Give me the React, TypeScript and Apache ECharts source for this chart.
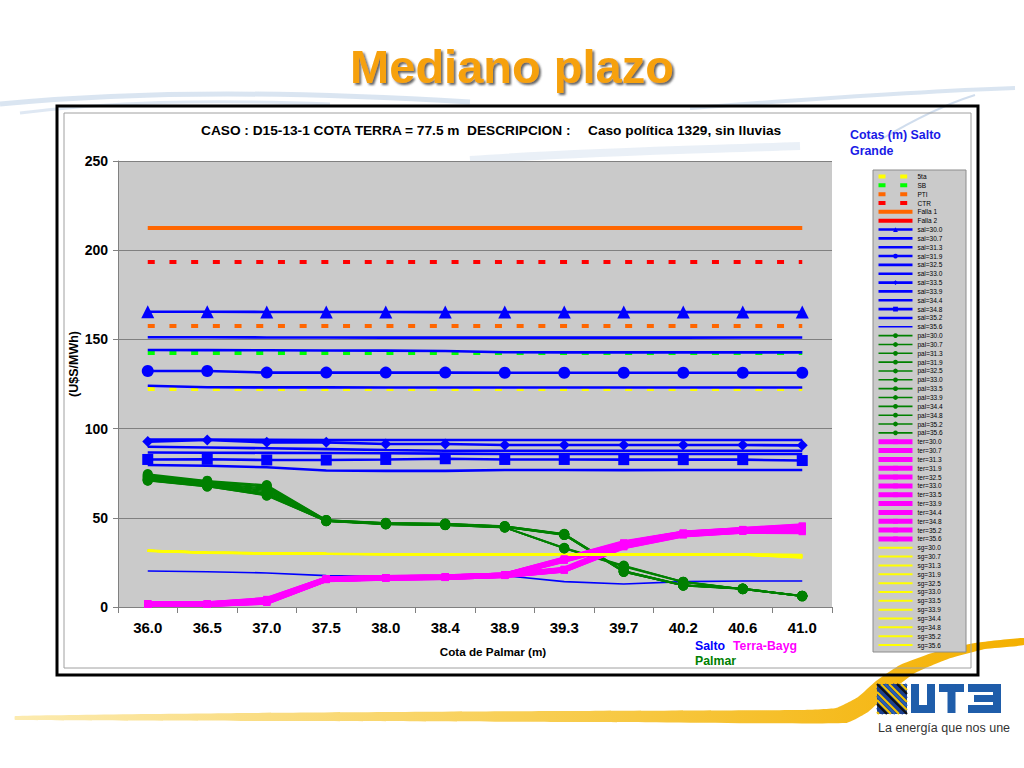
import React, { useEffect, useRef } from "react";
import * as echarts from "echarts";

const FONT = '"Liberation Sans", Arial, Helvetica, sans-serif';

const categories = ["36.0", "36.5", "37.0", "37.5", "38.0", "38.4", "38.9", "39.3", "39.7", "40.2", "40.6", "41.0"];
const cotas = ["30.0", "30.7", "31.3", "31.9", "32.5", "33.0", "33.5", "33.9", "34.4", "34.8", "35.2", "35.6"];

// Reference levels (dashed) and failure costs
const quinta = [122.2, 122.2, 122.2, 122.2, 122.2, 122.2, 122.2, 122.2, 122.2, 122.2, 122.2, 122.2];
const sb = [142.4, 142.4, 142.4, 142.4, 142.4, 142.4, 142.4, 142.4, 142.4, 142.4, 142.4, 142.4];
const pti = [157.5, 157.5, 157.5, 157.5, 157.5, 157.5, 157.5, 157.5, 157.5, 157.5, 157.5, 157.5];
const ctr = [193.4, 193.4, 193.4, 193.4, 193.4, 193.4, 193.4, 193.4, 193.4, 193.4, 193.4, 193.4];
const falla1 = [212.5, 212.5, 212.5, 212.5, 212.5, 212.5, 212.5, 212.5, 212.5, 212.5, 212.5, 212.5];
const falla2 = [300, 300, 300, 300, 300, 300, 300, 300, 300, 300, 300, 300];

// Salto Grande
const sal300 = [165.5, 165.5, 165.4, 165.4, 165.4, 165.3, 165.3, 165.3, 165.3, 165.3, 165.3, 165.3];
const sal307 = [151.2, 151.2, 151.1, 151.1, 151.0, 151.0, 151.0, 151.0, 151.0, 151.0, 151.1, 151.1];
const sal313 = [144.1, 144.0, 143.9, 143.8, 143.7, 143.5, 142.8, 142.7, 142.7, 142.7, 142.7, 142.7];
const sal319 = [132.3, 132.3, 131.4, 131.4, 131.4, 131.4, 131.3, 131.3, 131.3, 131.3, 131.3, 131.3];
const sal325 = [124.0, 123.2, 123.1, 123.1, 123.0, 123.0, 123.0, 123.0, 123.0, 123.0, 123.0, 123.0];
const sal330 = [93.9, 93.8, 93.7, 93.6, 93.6, 93.6, 93.6, 93.6, 93.6, 93.6, 93.6, 93.6];
const sal335 = [92.7, 93.6, 92.3, 92.3, 91.4, 91.4, 90.8, 90.8, 90.8, 90.8, 90.8, 90.6];
const sal339 = [89.8, 89.4, 89.0, 88.5, 88.0, 87.6, 87.6, 87.6, 87.6, 87.6, 87.6, 87.6];
const sal344 = [86.6, 86.5, 86.4, 86.3, 86.2, 86.0, 85.8, 85.8, 85.8, 85.8, 85.8, 85.8];
const sal348 = [82.7, 82.8, 82.4, 82.4, 82.7, 83.1, 82.7, 82.7, 82.6, 82.6, 82.6, 82.1];
const sal352 = [79.6, 79.2, 78.3, 76.5, 76.3, 76.3, 76.8, 76.8, 76.7, 76.8, 76.8, 76.8];
const sal356 = [20.2, 19.8, 19.1, 17.6, 17.0, 17.0, 17.6, 14.2, 12.9, 14.2, 14.6, 14.6];

// Palmar
const pal300 = [74.5, 70.8, 68.4, 48.8, 47.2, 46.8, 45.4, 41.0, 20.3, 12.3, 10.3, 6.3];
const pal307 = [74.0, 70.4, 67.8, 48.7, 47.1, 46.7, 45.3, 40.9, 20.2, 12.3, 10.3, 6.3];
const pal313 = [73.6, 70.0, 67.3, 48.6, 47.0, 46.6, 45.2, 40.8, 20.1, 12.2, 10.3, 6.3];
const pal319 = [73.1, 69.6, 66.6, 48.5, 46.9, 46.5, 45.1, 40.7, 20.0, 12.2, 10.2, 6.2];
const pal325 = [72.7, 69.2, 66.0, 48.5, 46.8, 46.4, 45.0, 40.6, 19.9, 12.1, 10.2, 6.2];
const pal330 = [72.3, 68.9, 65.3, 48.4, 46.7, 46.3, 44.9, 40.5, 19.8, 12.1, 10.2, 6.2];
const pal335 = [71.9, 68.6, 64.6, 48.3, 46.6, 46.2, 44.8, 40.4, 19.7, 12.0, 10.1, 6.1];
const pal339 = [71.5, 68.3, 63.9, 48.3, 46.5, 46.1, 44.8, 40.3, 19.6, 12.0, 10.1, 6.1];
const pal344 = [71.3, 68.0, 63.3, 48.2, 46.5, 46.0, 44.7, 33.2, 23.2, 14.2, 10.1, 6.1];
const pal348 = [71.1, 67.8, 62.9, 48.2, 46.4, 45.9, 44.6, 33.0, 23.0, 14.1, 10.0, 6.0];
const pal352 = [70.9, 67.6, 62.6, 48.1, 46.4, 45.9, 44.6, 32.9, 22.8, 14.0, 10.0, 6.0];
const pal356 = [70.8, 67.5, 62.4, 48.1, 46.3, 45.8, 44.5, 32.8, 22.6, 13.9, 10.0, 6.0];

// Terra-Baygorria
const ter300 = [1.8, 1.8, 4.3, 15.8, 16.5, 16.9, 18.0, 27.0, 36.0, 41.5, 43.5, 45.5];
const ter307 = [1.8, 1.8, 4.1, 15.8, 16.5, 16.9, 18.0, 26.8, 35.8, 41.4, 43.4, 45.2];
const ter313 = [1.7, 1.7, 3.9, 15.7, 16.4, 16.8, 17.9, 26.6, 35.6, 41.3, 43.3, 44.9];
const ter319 = [1.7, 1.7, 3.7, 15.7, 16.4, 16.8, 17.9, 26.4, 35.4, 41.2, 43.2, 44.6];
const ter325 = [1.6, 1.6, 3.5, 15.6, 16.3, 16.8, 17.9, 26.3, 35.2, 41.1, 43.1, 44.3];
const ter330 = [1.6, 1.6, 3.3, 15.6, 16.3, 16.7, 17.8, 26.2, 35.0, 41.0, 43.0, 44.0];
const ter335 = [1.5, 1.5, 3.1, 15.5, 16.3, 16.7, 17.8, 21.2, 34.8, 40.9, 42.9, 43.7];
const ter339 = [1.5, 1.5, 3.0, 15.5, 16.2, 16.7, 17.8, 21.0, 34.5, 40.8, 42.8, 43.4];
const ter344 = [1.5, 1.5, 2.9, 15.5, 16.2, 16.6, 17.7, 20.9, 34.3, 40.7, 42.7, 43.1];
const ter348 = [1.4, 1.4, 2.8, 15.4, 16.2, 16.6, 17.7, 20.8, 34.1, 40.6, 42.6, 42.8];
const ter352 = [1.4, 1.4, 2.7, 15.4, 16.1, 16.6, 17.7, 20.7, 33.9, 40.5, 42.5, 42.5];
const ter356 = [1.4, 1.4, 2.6, 15.3, 16.1, 16.5, 17.6, 20.6, 33.7, 40.4, 42.4, 42.2];

// sg
const sg300 = [31.7, 30.6, 30.2, 29.9, 29.7, 29.6, 29.5, 29.5, 29.5, 29.5, 29.5, 29.3];
const sg307 = [31.7, 30.6, 30.2, 29.9, 29.7, 29.6, 29.5, 29.5, 29.5, 29.5, 29.5, 29.1];
const sg313 = [31.6, 30.5, 30.2, 29.9, 29.7, 29.5, 29.5, 29.5, 29.5, 29.5, 29.5, 29.0];
const sg319 = [31.6, 30.5, 30.1, 29.9, 29.7, 29.5, 29.5, 29.5, 29.5, 29.5, 29.5, 28.8];
const sg325 = [31.6, 30.5, 30.1, 29.8, 29.6, 29.5, 29.5, 29.5, 29.5, 29.5, 29.5, 28.7];
const sg330 = [31.6, 30.5, 30.1, 29.8, 29.6, 29.5, 29.5, 29.5, 29.5, 29.5, 29.4, 28.5];
const sg335 = [31.5, 30.5, 30.1, 29.8, 29.6, 29.5, 29.5, 29.5, 29.5, 29.5, 29.4, 28.4];
const sg339 = [31.5, 30.4, 30.1, 29.8, 29.6, 29.5, 29.4, 29.4, 29.4, 29.4, 29.4, 28.2];
const sg344 = [31.5, 30.4, 30.0, 29.8, 29.6, 29.4, 29.4, 29.4, 29.4, 29.4, 29.4, 28.1];
const sg348 = [31.5, 30.4, 30.0, 29.7, 29.5, 29.4, 29.4, 29.4, 29.4, 29.4, 29.3, 27.9];
const sg352 = [31.4, 30.4, 30.0, 29.7, 29.5, 29.4, 29.4, 29.4, 29.4, 29.4, 29.3, 27.8];
const sg356 = [31.4, 30.3, 30.0, 29.7, 29.5, 29.4, 29.4, 29.4, 29.4, 29.4, 29.3, 27.6];

const salData = [sal300, sal307, sal313, sal319, sal325, sal330, sal335, sal339, sal344, sal348, sal352, sal356];
const palData = [pal300, pal307, pal313, pal319, pal325, pal330, pal335, pal339, pal344, pal348, pal352, pal356];
const terData = [ter300, ter307, ter313, ter319, ter325, ter330, ter335, ter339, ter344, ter348, ter352, ter356];
const sgData = [sg300, sg307, sg313, sg319, sg325, sg330, sg335, sg339, sg344, sg348, sg352, sg356];

const salSymbols = ["triangle", "none", "none", "circle", "none", "none", "diamond", "none", "none", "rect", "none", "none"];
const salSymbolSizes = [13, 0, 0, 12, 0, 0, 11, 0, 0, 11, 0, 0];

function buildOption() {
  const series: any[] = [];
  const legendData: any[] = [];
  const hidden = { opacity: 0 };

  const dashed = (name: string, data: number[], color: string) => {
    series.push({
      name, type: "line", data, symbol: "none",
      lineStyle: { color, width: 4, type: [7, 14.7], cap: "butt" },
      itemStyle: { color },
    });
    legendData.push({ name, itemStyle: hidden });
  };
  const solid = (name: string, data: number[], color: string, width: number) => {
    series.push({ name, type: "line", data, symbol: "none", lineStyle: { color, width }, itemStyle: { color } });
    legendData.push({ name, itemStyle: hidden });
  };
  dashed("5ta", quinta, "#FFFF00");
  dashed("SB", sb, "#00FF00");
  dashed("PTI", pti, "#FF6600");
  dashed("CTR", ctr, "#FF0000");
  solid("Falla 1", falla1, "#FF6600", 4);
  solid("Falla 2", falla2, "#FF0000", 4);

  salData.forEach((d, i) => {
    const name = "sal=" + cotas[i];
    const sym = salSymbols[i];
    series.push({
      name, type: "line", data: d,
      symbol: sym, symbolSize: salSymbolSizes[i], showSymbol: sym !== "none",
      lineStyle: { color: "#0000FF", width: i === 11 ? 1.6 : 2.6 },
      itemStyle: { color: "#0000FF" },
    });
    legendData.push(sym === "none" ? { name, itemStyle: hidden } : { name });
  });
  palData.forEach((d, i) => {
    const name = "pal=" + cotas[i];
    series.push({
      name, type: "line", data: d, symbol: "circle", symbolSize: 10,
      lineStyle: { color: "#008000", width: 1.6 }, itemStyle: { color: "#008000" },
    });
    legendData.push({ name });
  });
  terData.forEach((d, i) => {
    const name = "ter=" + cotas[i];
    series.push({
      name, type: "line", data: d, symbol: "rect", symbolSize: 7,
      lineStyle: { color: "#FF00FF", width: 5 }, itemStyle: { color: "#FF00FF" },
    });
    legendData.push({ name });
  });
  sgData.forEach((d, i) => {
    const name = "sg=" + cotas[i];
    series.push({
      name, type: "line", data: d, symbol: "none",
      lineStyle: { color: "#FFFF00", width: 2 }, itemStyle: { color: "#FFFF00" },
    });
    legendData.push({ name, itemStyle: hidden });
  });

  // Logo stripes (decoration)
  const stripes: any[] = [];
  const sx = 877, sy = 684, sw = 30;
  const stripeColors = ["#F3C300", "#1B3F8F", "#111111", "#F3C300", "#2A62B8"];
  let ci = 0;
  for (let k = -sw + 2; k < sw; k += 4) {
    let x1, y1, x2, y2;
    if (k >= 0) { x1 = sx + k; y1 = sy; x2 = sx + sw; y2 = sy + sw - k; }
    else { x1 = sx; y1 = sy - k; x2 = sx + sw + k; y2 = sy + sw; }
    stripes.push({
      type: "line", z: 3, shape: { x1, y1, x2, y2 },
      style: { stroke: stripeColors[ci % stripeColors.length], lineWidth: 2.2 },
    });
    ci++;
  }

  const blue = "#1F5DAA";
  const graphic: any[] = [
    // white chart area
    { type: "rect", z: -10, shape: { x: 57, y: 106, width: 921, height: 569 }, style: { fill: "#FFFFFF" } },
    // top swooshes
    { type: "bezierCurve", z: -9, shape: { x1: 0, y1: 104, cpx1: 150, cpy1: 90, cpx2: 300, cpy2: 92, x2: 470, y2: 102 }, style: { stroke: "rgba(150,180,215,0.35)", lineWidth: 5, fill: "none" } },
    { type: "bezierCurve", z: -9, shape: { x1: 20, y1: 113, cpx1: 110, cpy1: 102, cpx2: 200, cpy2: 99, x2: 330, y2: 104 }, style: { stroke: "rgba(150,180,215,0.3)", lineWidth: 3, fill: "none" } },
    { type: "bezierCurve", z: -9, shape: { x1: 690, y1: 108, cpx1: 800, cpy1: 100, cpx2: 900, cpy2: 92, x2: 1015, y2: 88 }, style: { stroke: "rgba(150,180,215,0.35)", lineWidth: 4, fill: "none" } },
    { type: "bezierCurve", z: -9, shape: { x1: 470, y1: 160, cpx1: 580, cpy1: 152, cpx2: 690, cpy2: 150, x2: 800, y2: 146 }, style: { stroke: "rgba(170,195,225,0.25)", lineWidth: 8, fill: "none" } },
    { type: "bezierCurve", z: -9, shape: { x1: 880, y1: 140, cpx1: 910, cpy1: 122, cpx2: 940, cpy2: 106, x2: 975, y2: 95 }, style: { stroke: "rgba(150,180,215,0.45)", lineWidth: 2, fill: "none" } },
    // bottom yellow swoosh
    {
      type: "polygon", z: -9,
      shape: {
        smooth: 0.15,
        points: [[15, 716], [250, 713], [560, 711], [800, 710], [836, 708], [858, 697], [876, 681], [900, 665], [935, 652], [975, 643], [1024, 638],
          [1024, 645], [985, 649], [948, 659], [915, 673], [890, 692], [868, 712], [846, 723], [600, 722], [300, 721], [15, 720]],
      },
      style: {
        fill: new echarts.graphic.LinearGradient(0, 0, 1, 0, [
          { offset: 0, color: "#FCEBB0" }, { offset: 0.5, color: "#F8CF55" }, { offset: 1, color: "#F4B000" },
        ]),
      },
    },
    // frame
    { type: "rect", z: -8, shape: { x: 57, y: 106, width: 921, height: 569 }, style: { fill: "none", stroke: "#000000", lineWidth: 3 } },
    { type: "rect", z: -8, shape: { x: 64, y: 113, width: 907, height: 555 }, style: { fill: "none", stroke: "#A0A0A0", lineWidth: 1 } },
    // legend box
    { type: "rect", z: -7, shape: { x: 873, y: 170, width: 93, height: 482 }, style: { fill: "#CACACA", stroke: "#8C8C8C", lineWidth: 1 } },
    // title
    {
      type: "text", z: 10, x: 512, y: 66,
      style: {
        text: "Mediano plazo", fill: "#F6A10F", font: `bold 47px ${FONT}`, align: "center", verticalAlign: "middle",
        textShadowColor: "rgba(60,60,60,0.8)", textShadowOffsetX: 2, textShadowOffsetY: 2, textShadowBlur: 2,
      },
    },
    // chart caption
    { type: "text", z: 10, x: 201, y: 130, style: { text: "CASO : D15-13-1 COTA TERRA = 77.5 m  DESCRIPCION :", fill: "#000", font: `bold 13.7px ${FONT}`, align: "left", verticalAlign: "middle" } },
    { type: "text", z: 10, x: 588, y: 130, style: { text: "Caso política 1329, sin lluvias", fill: "#000", font: `bold 13.7px ${FONT}`, align: "left", verticalAlign: "middle" } },
    // legend header
    { type: "text", z: 10, x: 850, y: 135, style: { text: "Cotas (m) Salto", fill: "#1A1AE6", font: `bold 12.4px ${FONT}`, align: "left", verticalAlign: "middle" } },
    { type: "text", z: 10, x: 850, y: 151, style: { text: "Grande", fill: "#1A1AE6", font: `bold 12.4px ${FONT}`, align: "left", verticalAlign: "middle" } },
    // axis titles
    { type: "text", z: 10, x: 74, y: 364, rotation: Math.PI / 2, style: { text: "(U$S/MWh)", fill: "#000", font: `bold 12.5px ${FONT}`, align: "center", verticalAlign: "middle" } },
    { type: "text", z: 10, x: 493, y: 651, style: { text: "Cota de Palmar (m)", fill: "#000", font: `bold 11.7px ${FONT}`, align: "center", verticalAlign: "middle" } },
    // group labels
    { type: "text", z: 10, x: 695, y: 646, style: { text: "Salto", fill: "#0000FF", font: `bold 12.3px ${FONT}`, align: "left", verticalAlign: "middle" } },
    { type: "text", z: 10, x: 733, y: 646, style: { text: "Terra-Bayg", fill: "#FF00FF", font: `bold 12.3px ${FONT}`, align: "left", verticalAlign: "middle" } },
    { type: "text", z: 10, x: 695, y: 661, style: { text: "Palmar", fill: "#008000", font: `bold 12.3px ${FONT}`, align: "left", verticalAlign: "middle" } },
    // logo
    { type: "rect", z: 2, shape: { x: sx, y: sy, width: sw, height: sw }, style: { fill: "#1B3F8F" } },
    ...stripes,
    { type: "rect", z: 3, shape: { x: 911, y: 684, width: 8, height: 29 }, style: { fill: blue } },
    { type: "rect", z: 3, shape: { x: 927, y: 684, width: 8, height: 29 }, style: { fill: blue } },
    { type: "rect", z: 3, shape: { x: 911, y: 705, width: 24, height: 8 }, style: { fill: blue } },
    { type: "rect", z: 3, shape: { x: 939, y: 684, width: 25, height: 8 }, style: { fill: blue } },
    { type: "rect", z: 3, shape: { x: 947.5, y: 684, width: 8, height: 29 }, style: { fill: blue } },
    { type: "rect", z: 3, shape: { x: 968, y: 684, width: 33, height: 8 }, style: { fill: blue } },
    { type: "rect", z: 3, shape: { x: 974, y: 695, width: 27, height: 7 }, style: { fill: blue } },
    { type: "rect", z: 3, shape: { x: 968, y: 705, width: 33, height: 8 }, style: { fill: blue } },
    { type: "rect", z: 3, shape: { x: 993, y: 684, width: 8, height: 29 }, style: { fill: blue } },
    { type: "text", z: 10, x: 878, y: 728, style: { text: "La energía que nos une", fill: "#333333", font: `12.5px "Liberation Sans Narrow", ${FONT}`, align: "left", verticalAlign: "middle" } },
  ];

  return {
    animation: false,
    backgroundColor: "#FFFFFF",
    textStyle: { fontFamily: FONT },
    grid: { left: 118, right: 192, top: 161, bottom: 161, show: true, backgroundColor: "#CACACA", borderWidth: 0 },
    xAxis: {
      type: "category", data: categories, boundaryGap: true,
      axisLine: { show: true, lineStyle: { color: "#808080", width: 1 } },
      axisTick: { show: true, length: 6, lineStyle: { color: "#808080" } },
      axisLabel: { color: "#000", fontSize: 15, fontWeight: "bold", fontFamily: FONT, margin: 13, interval: 0 },
      splitLine: { show: false },
    },
    yAxis: {
      type: "value", min: 0, max: 250, interval: 50,
      axisLine: { show: true, lineStyle: { color: "#808080", width: 1 } },
      axisTick: { show: true, length: 5, lineStyle: { color: "#808080" } },
      axisLabel: { color: "#000", fontSize: 14, fontWeight: "bold", fontFamily: FONT, margin: 10 },
      splitLine: { show: true, lineStyle: { color: "#808080", width: 1 } },
    },
    legend: {
      orient: "vertical", left: 874, top: 172, padding: [1, 0, 0, 2],
      itemWidth: 34, itemHeight: 6, itemGap: 1.84,
      selectedMode: false,
      lineStyle: { width: "inherit" },
      textStyle: { fontSize: 6.5, lineHeight: 6, color: "#000", fontFamily: FONT, padding: 0 },
      data: legendData,
    },
    graphic,
    series,
  };
}

export default function App() {
  const ref = useRef<HTMLDivElement>(null);
  useEffect(() => {
    if (!ref.current) return;
    const chart = echarts.init(ref.current, null, { renderer: "svg" });
    chart.setOption(buildOption() as any);
    return () => chart.dispose();
  }, []);
  return <div ref={ref} style={{ position: "absolute", left: 0, top: 0, width: 1024, height: 768 }} />;
}
